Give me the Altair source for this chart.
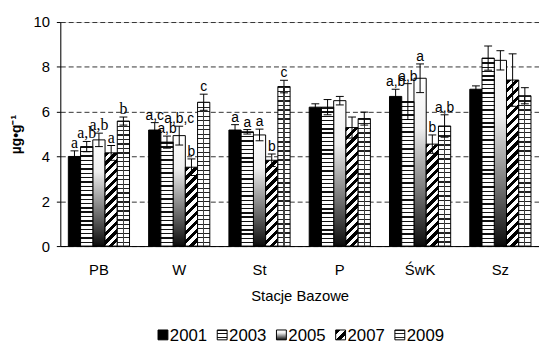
import altair as alt
import pandas as pd

# ---------------- data ----------------
stations = ["PB", "W", "St", "P", "ŚwK", "Sz"]
years = ["2001", "2003", "2005", "2007", "2009"]

v2001 = [4.00, 5.18, 5.18, 6.20, 6.68, 7.00]
v2003 = [4.44, 4.64, 5.10, 6.20, 6.45, 8.39]
v2005 = [4.74, 4.93, 4.96, 6.49, 7.49, 8.29]
v2007 = [4.16, 3.52, 3.83, 5.29, 4.55, 7.41]
v2009 = [5.58, 6.42, 7.12, 5.69, 5.36, 6.71]

e2001 = [0.25, 0.33, 0.24, 0.15, 0.32, 0.15]
e2003 = [0.23, 0.27, 0.10, 0.34, 0.80, 0.54]
e2005 = [0.30, 0.42, 0.26, 0.19, 0.64, 0.43]
e2007 = [0.33, 0.37, 0.28, 0.47, 0.41, 1.17]
e2009 = [0.18, 0.36, 0.28, 0.29, 0.50, 0.36]

l2001 = ["a", "a,c", "a", "", "a,b", ""]
l2003 = ["a,b", "a,b", "a", "", "a,b", ""]
l2005 = ["a,b", "a,b,c", "a", "", "a", ""]
l2007 = ["a", "b", "b", "", "b", ""]
l2009 = ["b", "c", "c", "", "a,b", ""]

values = {"2001": v2001, "2003": v2003, "2005": v2005, "2007": v2007, "2009": v2009}
errors = {"2001": e2001, "2003": e2003, "2005": e2005, "2007": e2007, "2009": e2009}
labels = {"2001": l2001, "2003": l2003, "2005": l2005, "2007": l2007, "2009": l2009}

rows = []
for yr in years:
    for i, st in enumerate(stations):
        v, e = values[yr][i], errors[yr][i]
        rows.append({"station": st, "year": yr, "value": v, "lo": v - e, "hi": v + e,
                     "label": labels[yr][i]})
df = pd.DataFrame(rows)
leg_df = pd.DataFrame({"year": years})

# ---------------- layout / style ----------------
W, H = 485, 227
YMAX = 10
FONT = "Liberation Sans"
SERIF = "Liberation Serif"
P_IN, P_OUT = 0.238, 0.1
step = W / (len(stations) - P_IN + 2 * P_OUT)
bar_w = step * (1 - P_IN) / len(years)


def stripes(n, frac, dark, light, x2=0.0, y2=1.0):
    stops = []
    for i in range(n):
        a, b, c = i / n, (i + frac) / n, (i + 1) / n
        stops += [{"offset": a, "color": dark}, {"offset": b, "color": dark},
                  {"offset": b, "color": light}, {"offset": c, "color": light}]
    return {"gradient": "linear", "x1": 0, "y1": 0, "x2": x2, "y2": y2, "stops": stops}


def diag(w, h, period):
    s = (w + h) / (w * w + h * h)
    n = max(1, round((w + h) / period))
    return stripes(n, 0.5, "#000000", "#ffffff", x2=s * w, y2=s * h)


shade = {"gradient": "linear", "x1": 0, "y1": 0, "x2": 0, "y2": 1,
         "stops": [{"offset": 0, "color": "#ffffff"}, {"offset": 0.3, "color": "#eeeeee"},
                   {"offset": 0.7, "color": "#6e6e6e"}, {"offset": 1, "color": "#0a0a0a"}]}
joint = {"gradient": "linear", "x1": 0, "y1": 0, "x2": 1, "y2": 0,
         "stops": [{"offset": 0, "color": "rgba(0,0,0,0)"}, {"offset": 0.46, "color": "rgba(0,0,0,0)"},
                   {"offset": 0.46, "color": "#444444"}, {"offset": 0.55, "color": "#444444"},
                   {"offset": 0.55, "color": "rgba(0,0,0,0)"}, {"offset": 1, "color": "rgba(0,0,0,0)"}]}

x_axis = alt.Axis(ticks=False, grid=False, domainColor="black", labelAngle=0, labelFont=FONT,
                  labelFontSize=15, labelColor="black", labelPadding=28.5, labelBaseline="alphabetic",
                  titleFont=FONT, titleFontSize=15, titleFontWeight="normal", titleColor="black",
                  titleBaseline="alphabetic", titleY=55.5)
y_axis = alt.Axis(values=[0, 2, 4, 6, 8, 10], grid=True, gridDash=[5, 3], gridColor="#333333",
                  gridWidth=1, domainColor="black", tickColor="black", tickSize=4, labelFont=FONT,
                  labelFontSize=15, labelColor="black", labelPadding=7, titleFont=FONT,
                  titleFontSize=14, titleFontWeight="bold", titleColor="black", titleAngle=270,
                  titleX=-40, titleY=H / 2, titleAlign="center", titleBaseline="alphabetic")

x_enc = alt.X("station:N", scale=alt.Scale(domain=stations, paddingInner=P_IN, paddingOuter=P_OUT),
              axis=x_axis, title="Stacje Bazowe")
xo_enc = alt.XOffset("year:N", scale=alt.Scale(domain=years, paddingInner=0, paddingOuter=0))


def y_enc(field):
    return alt.Y(f"{field}:Q", scale=alt.Scale(domain=[0, YMAX], nice=False), axis=y_axis,
                 title="µg•g⁻¹")


base = alt.Chart(df)
layers = []

# solid 2001 and shaded 2005
for yr, fill in [("2001", "#000000"), ("2005", shade)]:
    layers.append(base.transform_filter(f"datum.year === '{yr}'")
                  .mark_bar(fill=fill, stroke="black", strokeWidth=1)
                  .encode(x=x_enc, xOffset=xo_enc, y=y_enc("value")))

# patterned bars (pattern density depends on each bar's height)
for yr in ["2003", "2007", "2009"]:
    for i, st in enumerate(stations):
        hpx = values[yr][i] / YMAX * H
        if yr == "2003":
            fill = stripes(max(1, round(hpx / 4.3)), 0.32, "#111111", "#ffffff")
        elif yr == "2007":
            fill = diag(bar_w, hpx, 9.0)
        else:
            fill = stripes(max(1, round(hpx / 4.6)), 0.28, "#222222", "#ffffff")
        filt = f"datum.year === '{yr}' && datum.station === '{st}'"
        layers.append(base.transform_filter(filt)
                      .mark_bar(fill=fill, stroke="black", strokeWidth=1)
                      .encode(x=x_enc, xOffset=xo_enc, y=y_enc("value")))
        if yr == "2009":
            layers.append(base.transform_filter(filt)
                          .mark_bar(fill=joint, strokeWidth=0)
                          .encode(x=x_enc, xOffset=xo_enc, y=y_enc("value")))

# error bars
layers.append(base.mark_rule(color="black", strokeWidth=1)
              .encode(x=x_enc, xOffset=xo_enc, y=y_enc("lo"), y2="hi:Q"))
for f in ["lo", "hi"]:
    layers.append(base.mark_tick(color="black", size=8, thickness=1, opacity=1)
                  .encode(x=x_enc, xOffset=xo_enc, y=y_enc(f)))

# significance letters
layers.append(base.transform_filter("datum.label !== '' && datum.station === 'PB'")
              .mark_text(font=SERIF, fontSize=16, color="black", baseline="alphabetic", dy=-3)
              .encode(x=x_enc, xOffset=xo_enc, y=y_enc("hi"), text="label:N"))
layers.append(base.transform_filter("datum.label !== '' && datum.station !== 'PB'")
              .mark_text(font=FONT, fontSize=14, color="black", baseline="alphabetic", dy=-3)
              .encode(x=x_enc, xOffset=xo_enc, y=y_enc("hi"), text="label:N"))

bars = alt.layer(*layers)

# ---------------- legend (drawn below the plot) ----------------
lx = alt.X("year:N", scale=alt.Scale(type="point", domain=years, range=[104, 344], padding=0),
           axis=None)
leg_fill = {"2001": "#000000", "2003": stripes(3, 0.3, "#111111", "#ffffff"), "2005": shade,
            "2007": diag(1, 1, 1.0), "2009": stripes(3, 0.3, "#222222", "#ffffff")}
leg_layers = []
lbase = alt.Chart(leg_df)
for yr in years:
    leg_layers.append(lbase.transform_filter(f"datum.year === '{yr}'")
                      .mark_square(size=100, fill=leg_fill[yr], stroke="black", strokeWidth=1, opacity=1)
                      .encode(x=lx, y=alt.value(317)))
leg_layers.append(lbase.mark_text(font=FONT, fontSize=17, color="black", align="left",
                                  baseline="alphabetic", dx=7)
                  .encode(x=lx, y=alt.value(323), text="year:N"))
legend = alt.layer(*leg_layers)

chart = (alt.layer(bars, legend)
         .resolve_scale(x="independent")
         .properties(width=W, height=H,
                     autosize=alt.AutoSizeParams(type="none"),
                     padding={"left": 53, "top": 12, "right": 0, "bottom": 97})
         .configure_view(stroke=None)
         .configure(background="white"))

chart.save("out.html", embed_options={"renderer": "svg", "actions": False})
